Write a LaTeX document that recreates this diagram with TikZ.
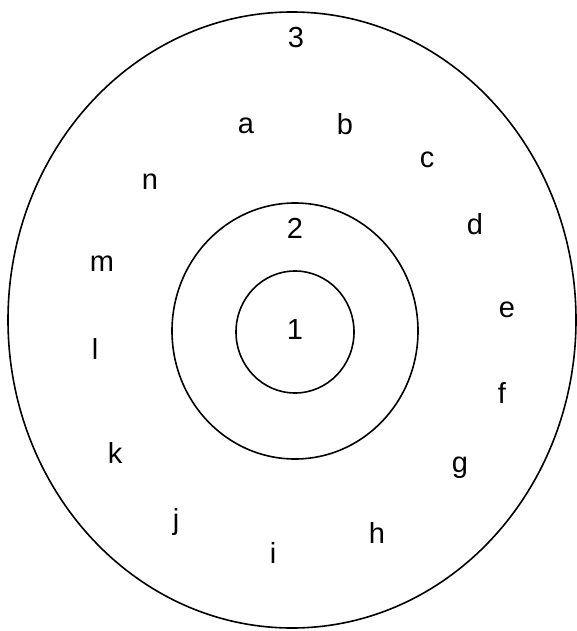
\documentclass[tikz,border=0pt]{standalone}
\usepackage{fontspec}
\setmainfont{Liberation Sans}
\usetikzlibrary{positioning}

\begin{document}
\begin{tikzpicture}[
  x=1pt, y=-1pt,
  ring/.style={draw, line width=1.6pt},
  lbl/.style={font=\fontsize{29}{32}\selectfont, inner sep=0pt},
]
\useasboundingbox (0,0) rectangle (577,631);

% the three zones
\draw[ring] (292,320) ellipse [x radius=284, y radius=308];
\draw[ring] (295,331) ellipse [x radius=123, y radius=128];
\draw[ring] (295,332) ellipse [x radius=59, y radius=61];

\node[lbl] (z3) at (296,38)  {3};
\node[lbl] (z2) at (295,228) {2};
\node[lbl] (z1) at (295,330) {1};

% points in the outer zone
\node[lbl] (a) at (246,126) {a};
\node[lbl] (b) at (345,124) {b};
\node[lbl] (c) at (427,160) {c};
\node[lbl] (d) at (475,224) {d};
\node[lbl] (e) at (507,310) {e};
\node[lbl] (f) at (502,393) {f};
\node[lbl] (g) at (460,468) {g};
\node[lbl] (h) at (377,533) {h};
\node[lbl] (i) at (273,553) {i};
\node[lbl] (j) at (176,522) {j};
\node[lbl] (k) at (115,453) {k};
\node[lbl] (l) at (95,349)  {l};
\node[lbl] (m) at (102,264) {m};
\node[lbl] (n) at (150,182) {n};

\end{tikzpicture}
\end{document}
